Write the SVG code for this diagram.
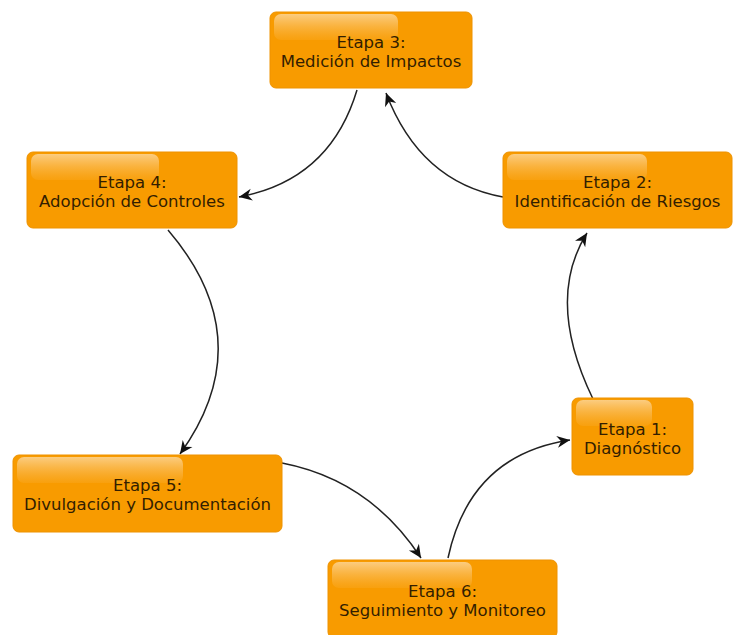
<svg xmlns="http://www.w3.org/2000/svg" width="735" height="635" viewBox="0 0 735 635">
<defs>
<linearGradient id="gloss" x1="0" y1="0" x2="0" y2="1">
<stop offset="0" stop-color="#fde2b8" stop-opacity="0.7"/>
<stop offset="1" stop-color="#fbbf60" stop-opacity="0.15"/>
</linearGradient>
<marker id="arr" markerUnits="userSpaceOnUse" markerWidth="16" markerHeight="14" viewBox="-14 -7 16 14" refX="0" refY="0" orient="auto">
<path d="M0,0 L-13,-6 L-9,0 L-13,6 Z" fill="#111"/>
</marker>
</defs>
<style>
.box{fill:#f89b00;stroke:#ee9200;stroke-width:1}
.gl{fill:url(#gloss)}
.t{font-family:"DejaVu Sans",sans-serif;font-size:16.5px;fill:#331e00;text-anchor:middle}
.c{fill:none;stroke:#222;stroke-width:1.5;marker-end:url(#arr)}
</style>
<rect width="735" height="635" fill="#fff"/>
<g id="connectors">
<path class="c" d="M593,399 Q545,300 587,233"/>
<path class="c" d="M503,197 Q420,182 386,93"/>
<path class="c" d="M357,90 Q330,180 239,197"/>
<path class="c" d="M168,230 Q262,340 180,454"/>
<path class="c" d="M282,463 Q370,480 421,558"/>
<path class="c" d="M448,558 Q470,455 570,440"/>
</g>
<g id="etapa3">
<rect class="box" x="270" y="12" width="202" height="76" rx="6"/>
<rect class="gl" x="274" y="14" width="124" height="26" rx="7"/>
<text class="t" x="371" y="48">Etapa 3:</text>
<text class="t" x="371" y="67">Medición de Impactos</text>
</g>
<g id="etapa2">
<rect class="box" x="503" y="152" width="229" height="76" rx="6"/>
<rect class="gl" x="507" y="154" width="140" height="26" rx="7"/>
<text class="t" x="617.5" y="188">Etapa 2:</text>
<text class="t" x="617.5" y="207">Identificación de Riesgos</text>
</g>
<g id="etapa1">
<rect class="box" x="572" y="398" width="121" height="77" rx="6"/>
<rect class="gl" x="576" y="400" width="76" height="26" rx="7"/>
<text class="t" x="632.5" y="435">Etapa 1:</text>
<text class="t" x="632.5" y="454">Diagnóstico</text>
</g>
<g id="etapa4">
<rect class="box" x="27" y="152" width="210" height="76" rx="6"/>
<rect class="gl" x="31" y="154" width="128" height="26" rx="7"/>
<text class="t" x="132" y="188">Etapa 4:</text>
<text class="t" x="132" y="207">Adopción de Controles</text>
</g>
<g id="etapa5">
<rect class="box" x="13" y="455" width="269" height="77" rx="6"/>
<rect class="gl" x="17" y="457" width="166" height="26" rx="7"/>
<text class="t" x="147.5" y="491">Etapa 5:</text>
<text class="t" x="147.5" y="510">Divulgación y Documentación</text>
</g>
<g id="etapa6">
<rect class="box" x="328" y="560" width="229" height="78" rx="6"/>
<rect class="gl" x="332" y="562" width="140" height="26" rx="7"/>
<text class="t" x="442.5" y="597">Etapa 6:</text>
<text class="t" x="442.5" y="616">Seguimiento y Monitoreo</text>
</g>
</svg>
